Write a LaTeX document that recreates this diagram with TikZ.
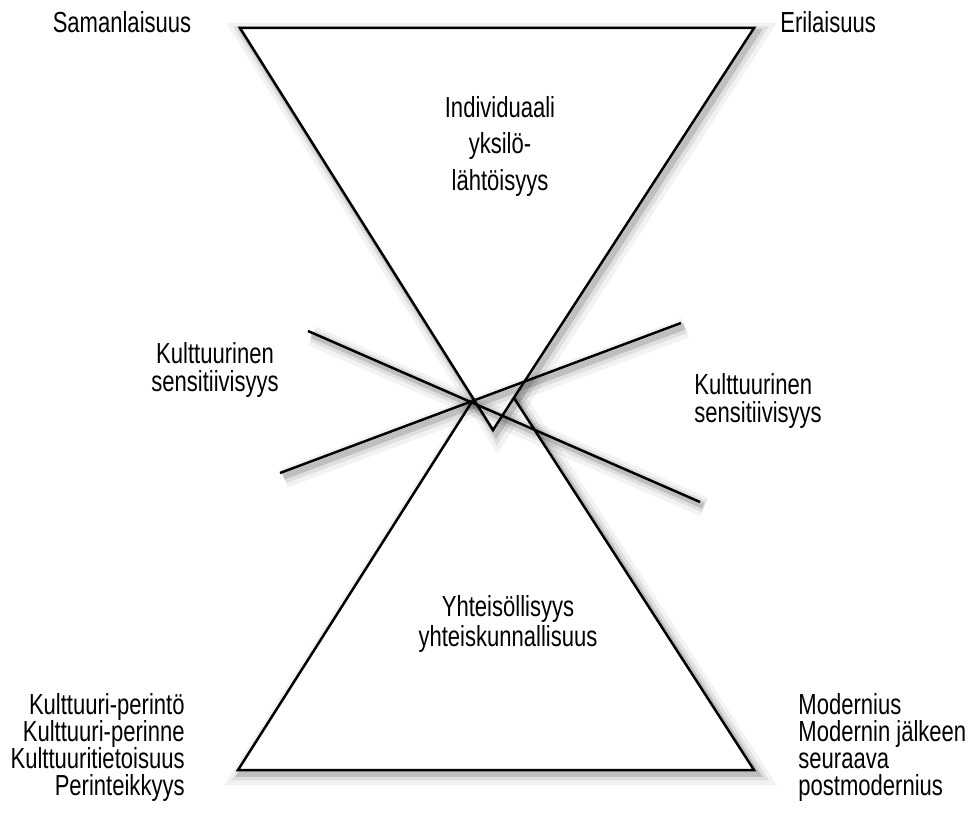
\documentclass[tikz,border=0pt]{standalone}
\usepackage{fontspec}
\setmainfont{Liberation Sans}[FakeStretch=0.76]
\tikzset{
  shadowed/.style={line width=1.25pt, draw=black, line join=miter,
    preaction={draw=black, opacity=0.05, line width=10pt, transform canvas={shift={(2.2pt,-2.5pt)}}},
    preaction={draw=black, opacity=0.08, line width=6pt, transform canvas={shift={(2pt,-2.2pt)}}},
    preaction={draw=black, opacity=0.14, line width=3pt, transform canvas={shift={(1.6pt,-1.9pt)}}}},
  tri/.style={shadowed, fill=white},
  lbl/.style={inner sep=0pt, text=black},
}
\newcommand{\lblfont}[1]{\fontsize{14.5}{#1}\selectfont\lineskiplimit=-10pt\relax}
\begin{document}
\begin{tikzpicture}[x=0.5pt,y=-0.5pt]
\useasboundingbox (0,0) rectangle (968,813);
\fill[white] (0,0) rectangle (968,813);
% corners
\coordinate (T1) at (240,28);
\coordinate (T2) at (754,28);
\coordinate (T3) at (493,430);
\coordinate (B1) at (238,770);
\coordinate (B2) at (754,770);
\coordinate (B3) at (494,367);
\coordinate (L1a) at (308,331);
\coordinate (L1b) at (700,502);
\coordinate (L2a) at (280,473);
\coordinate (L2b) at (681,323);
% bottom triangle first, then top triangle covering its apex
\draw[tri] (B1) -- (B2) -- (B3) -- cycle;
\draw[tri] (T1) -- (T2) -- (T3) -- cycle;
% crossing lines
\draw[shadowed] (L1a) -- (L1b);
\draw[shadowed] (L2a) -- (L2b);
% labels (anchor base = baseline of the last line)
\node[lbl, anchor=base, font=\lblfont{16}] (saman) at (122,33) {Samanlaisuus};
\node[lbl, anchor=base west, font=\lblfont{16}] (eri) at (780,33) {Erilaisuus};
\node[lbl, anchor=base, align=center, font=\lblfont{18}] (indiv) at (500,190) {Individuaali\\yksilö-\\lähtöisyys};
\node[lbl, anchor=base, align=center, font=\lblfont{14}] (kultL) at (215,391) {Kulttuurinen\\sensitiivisyys};
\node[lbl, anchor=base west, align=left, font=\lblfont{14}] (kultR) at (694,422) {Kulttuurinen\\sensitiivisyys};
\node[lbl, anchor=base, align=center, font=\lblfont{15}] (yhteis) at (508,646) {Yhteisöllisyys\\yhteiskunnallisuus};
\node[lbl, anchor=base east, align=right, font=\lblfont{13.5}] (perinto) at (185,795) {Kulttuuri-perintö\\Kulttuuri-perinne\\Kulttuuritietoisuus\\Perinteikkyys};
\node[lbl, anchor=base west, align=left, font=\lblfont{13.5}] (modern) at (798,795) {Modernius\\Modernin jälkeen\\seuraava\\postmodernius};
\end{tikzpicture}
\end{document}
